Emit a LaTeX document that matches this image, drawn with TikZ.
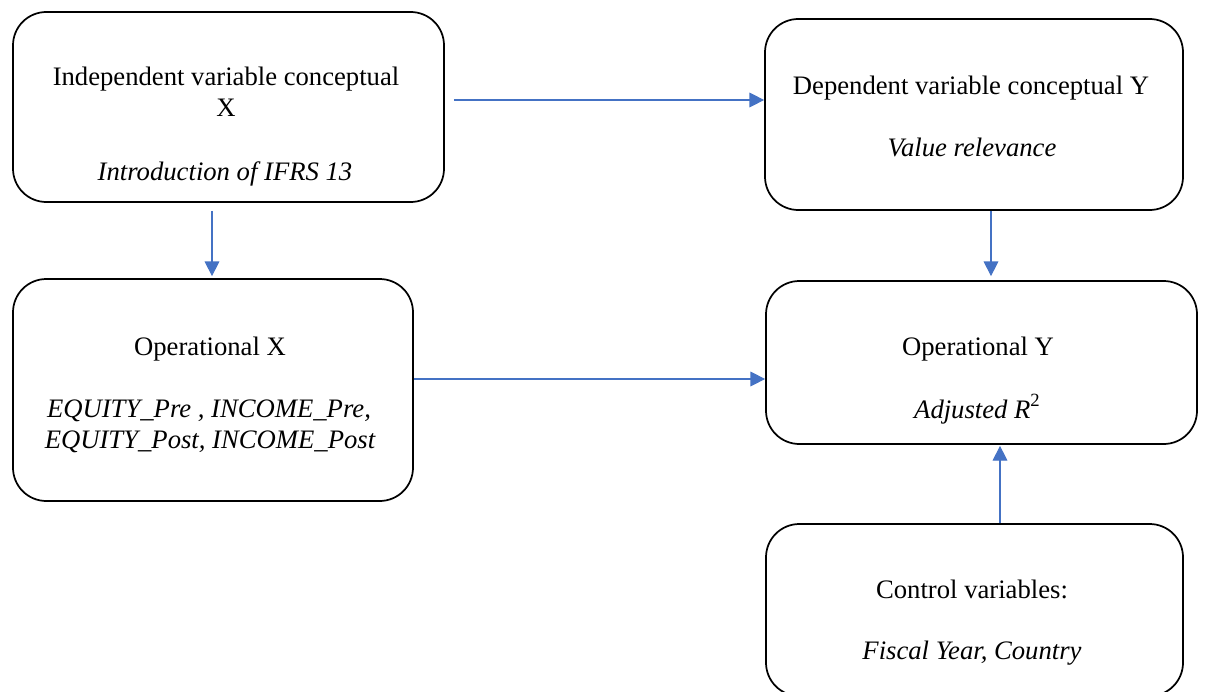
\documentclass[tikz,border=0pt]{standalone}
\usepackage{fontspec}
\setmainfont{Liberation Serif}
\usetikzlibrary{arrows.meta}
\definecolor{arrblue}{HTML}{4472C4}
\begin{document}
\begin{tikzpicture}[x=0.75pt,y=-0.75pt,
  box/.style={draw=black, line width=1.3pt, rounded corners=25pt, inner sep=0pt},
  txt/.style={anchor=base, inner sep=0pt, font=\fontsize{20}{24}\selectfont},
  itxt/.style={txt, font=\fontsize{20}{24}\selectfont\itshape},
  arr/.style={draw=arrblue, line width=0.8pt, -{Triangle[length=11pt,width=11pt]}, arrblue}]
\useasboundingbox (0,0) rectangle (1210,692);
\fill[white] (0,0) rectangle (1210,692);
% boxes
\node[box, minimum width=323.25pt, minimum height=142.5pt] (A) at (228.5,107) {};
\node[box, minimum width=313.5pt, minimum height=143.25pt] (B) at (974,114.5) {};
\node[box, minimum width=300pt, minimum height=166.5pt] (C) at (213,390) {};
\node[box, minimum width=323.25pt, minimum height=122.25pt] (D) at (981.5,362.5) {};
\node[box, minimum width=312.75pt, minimum height=129pt] (E) at (974.5,610) {};
% texts
\node[txt] (a1) at (226,86) {Independent variable conceptual};
\node[txt] (a2) at (226,117) {X};
\node[itxt] (a3) at (225,180) {Introduction of IFRS 13};
\node[txt] (b1) at (971,94) {Dependent variable conceptual Y};
\node[itxt] (b2) at (972,156) {Value relevance};
\node[txt] (c1) at (210,355) {Operational X};
\node[itxt] (c2) at (209,417) {EQUITY\_Pre , INCOME\_Pre,};
\node[itxt] (c3) at (210,448) {EQUITY\_Post, INCOME\_Post};
\node[txt] (d1) at (978,355) {Operational Y};
\node[txt] (d2) at (977,418) {\textit{Adjusted R}\raisebox{0.45em}{\fontsize{14}{16}\selectfont 2}};
\node[txt] (e1) at (972,598) {Control variables:};
\node[itxt] (e2) at (972,659) {Fiscal Year, Country};
% connectors
\draw[arr] ([xshift=6.75pt,yshift=5.25pt]A.east) -- ([yshift=10.875pt]B.west);
\draw[arr] ([xshift=-12.375pt,yshift=-6pt]A.south) -- ([xshift=-0.75pt,yshift=1.5pt]C.north);
\draw[arr] ([xshift=12.75pt]B.south) -- ([xshift=7.125pt,yshift=3pt]D.north);
\draw[arr] ([yshift=8.25pt]C.east) -- ([yshift=-12.375pt]D.west);
\draw[arr] ([xshift=19.125pt]E.north) -- ([xshift=13.875pt,yshift=-0.75pt]D.south);
\end{tikzpicture}
\end{document}
